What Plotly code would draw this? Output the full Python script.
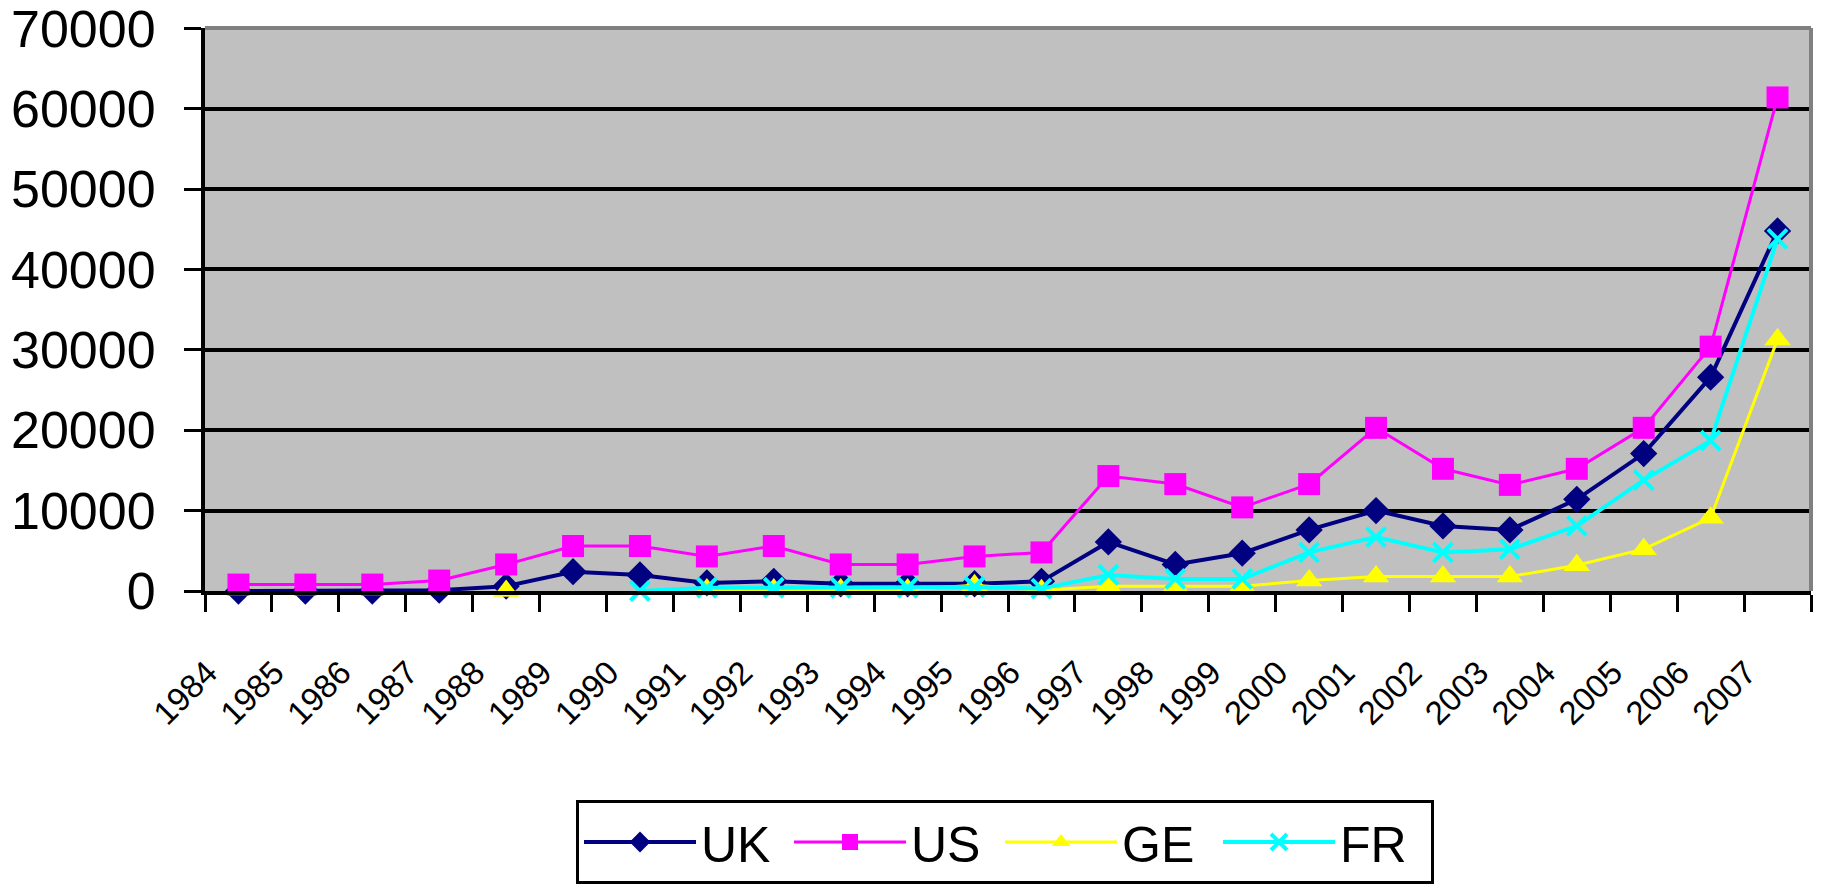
import plotly.graph_objects as go

# Annual figures per country, 1984-2007 (None = no value reported)
years = list(range(1984, 2008))
year_labels = [str(y) for y in years]

uk = [0, 0, 0, 100, 600, 2400, 2000, 1000, 1200, 900, 900, 900, 1200, 6100,
      3300, 4700, 7600, 10000, 8100, 7600, 11400, 17100, 26600, 44800]
us = [800, 800, 800, 1300, 3300, 5600, 5600, 4300, 5600, 3300, 3300, 4300, 4800, 14300,
      13300, 10400, 13300, 20300, 15200, 13200, 15200, 20300, 30400, 61400]
ge = [None, None, None, None, 0, None, None, 200, 200, 200, 200, 700, 100, 600,
      600, 600, 1300, 1800, 1800, 1800, 3200, 5200, 9100, 31300]
fr = [None, None, None, None, None, None, 0, 400, 400, 400, 400, 500, 300, 2000,
      1500, 1500, 4800, 6700, 4800, 5200, 8100, 13800, 18700, 43800]

y_ticks = [0, 10000, 20000, 30000, 40000, 50000, 60000, 70000]

FONT = "Arial, Liberation Sans, sans-serif"

# name, values, colour, marker symbol, marker size, line width, legend entry width
series = [
    ("UK", uk, "#000080", "diamond", 21, 4, 83),
    ("US", us, "#FF00FF", "square", 22, 3, 84),
    ("GE", ge, "#FFFF00", "triangle-up", 23, 3, 91),
    ("FR", fr, "#00FFFF", "x-thin", 19, 4, 86),
]

fig = go.Figure()
for name, vals, color, symbol, size, lw, entry_w in series:
    marker = dict(symbol=symbol, size=size, color=color)
    if symbol == "x-thin":
        marker["line"] = dict(color=color, width=4)
    fig.add_trace(go.Scatter(
        x=years, y=vals, name=name, mode="lines+markers",
        line=dict(color=color, width=lw), marker=marker,
        connectgaps=False, cliponaxis=False, legendwidth=entry_w,
    ))

fig.update_layout(
    width=1825, height=891,
    margin=dict(l=205, r=14, t=28, b=300),
    paper_bgcolor="white", plot_bgcolor="#C0C0C0",
    font=dict(family=FONT, color="black"),
    showlegend=True,
    legend=dict(
        orientation="h", xref="container", yref="container",
        x=576 / 1825, xanchor="left", y=1 - 800 / 891, yanchor="top",
        bordercolor="black", borderwidth=3, bgcolor="white",
        font=dict(family=FONT, size=50, color="black"),
        itemwidth=112,
    ),
    xaxis=dict(
        type="linear", range=[1983.5, 2007.5],
        tickmode="array", tickvals=years, ticktext=year_labels,
        tickangle=-45, ticks="", ticklabelstandoff=45, ticklabelshift=-31,
        tickfont=dict(family=FONT, size=33, color="black"),
        showgrid=False, zeroline=False, automargin=False,
        showline=True, linecolor="black", linewidth=4,
        # tick marks sit on the boundaries between years
        minor=dict(tickmode="array", tickvals=[y - 0.5 for y in years] + [2007.5],
                   ticks="outside", ticklen=17, tickwidth=3, tickcolor="black", showgrid=False),
    ),
    yaxis=dict(
        range=[0, 70040], tickmode="array", tickvals=y_ticks,
        ticktext=[str(v) for v in y_ticks],
        ticks="outside", ticklen=17, tickwidth=3, tickcolor="black",
        tickfont=dict(family=FONT, size=52, color="black"),
        ticklabelstandoff=18, ticklabeloverflow="allow", automargin=False,
        showgrid=True, gridcolor="black", gridwidth=4,
        zeroline=False, showline=True, linecolor="black", linewidth=4,
    ),
    # grey frame along the top and right of the plot area
    shapes=[
        dict(type="line", xref="paper", yref="paper", x0=0, x1=1, y0=1, y1=1,
             line=dict(color="#808080", width=4), layer="above"),
        dict(type="line", xref="paper", yref="paper", x0=1, x1=1, y0=0, y1=1,
             line=dict(color="#808080", width=4), layer="above"),
    ],
)

fig.write_html("out.html")
